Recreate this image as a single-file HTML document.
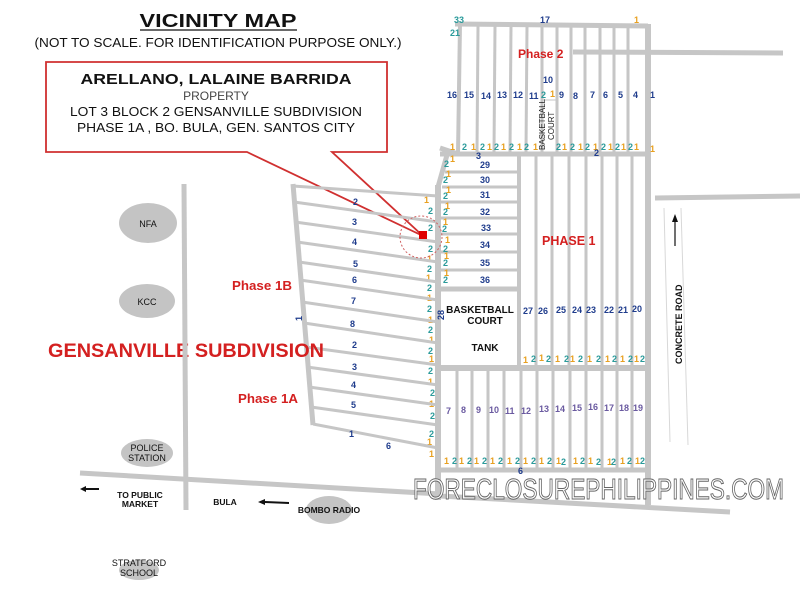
<!DOCTYPE html>
<html><head><meta charset="utf-8"><style>
html,body{margin:0;padding:0;background:#fff;}
svg{display:block;font-family:"Liberation Sans",Arial,sans-serif;}
.r{stroke:#c6c6c6;fill:none;}
.b{fill:#1f3c8c;font-size:9px;font-weight:bold;}
.p{fill:#6a5aa0;font-size:9px;font-weight:bold;}
.o{fill:#e8a020;font-size:9px;font-weight:bold;}
.t{fill:#2a9a9a;font-size:9px;font-weight:bold;}
.red{fill:#d42020;font-weight:bold;}
.k{fill:#111;font-size:9px;}
</style></head><body>
<svg width="800" height="600" viewBox="0 0 800 600" xmlns="http://www.w3.org/2000/svg">
<rect width="800" height="600" fill="#fff"/>
<!-- title -->
<text x="218" y="27" text-anchor="middle" font-size="18" font-weight="900" fill="#111" textLength="157" lengthAdjust="spacingAndGlyphs">VICINITY MAP</text>
<line x1="140" y1="30" x2="297" y2="30" stroke="#111" stroke-width="1.3"/>
<text x="218" y="47" text-anchor="middle" font-size="12.5" fill="#111" textLength="367" lengthAdjust="spacingAndGlyphs">(NOT TO SCALE. FOR IDENTIFICATION PURPOSE ONLY.)</text>
<!-- callout -->
<path d="M247,152 L46,152 L46,62 L387,62 L387,152 L332,152 L423,236 Z M247,152 L423,236" fill="#fff" stroke="#d03030" stroke-width="1.8"/>
<text x="216" y="84" text-anchor="middle" font-size="15" font-weight="bold" fill="#111" textLength="271" lengthAdjust="spacingAndGlyphs">ARELLANO, LALAINE BARRIDA</text>
<text x="216" y="100" text-anchor="middle" font-size="12" fill="#444">PROPERTY</text>
<text x="216" y="116" text-anchor="middle" font-size="12.5" fill="#111" textLength="292" lengthAdjust="spacingAndGlyphs">LOT 3 BLOCK 2  GENSANVILLE SUBDIVISION</text>
<text x="216" y="132" text-anchor="middle" font-size="12.5" fill="#111" textLength="278" lengthAdjust="spacingAndGlyphs">PHASE 1A , BO. BULA,  GEN. SANTOS CITY</text>

<!-- Phase 2 roads -->
<g class="r">
<line x1="455" y1="24" x2="648" y2="26" stroke-width="5"/>
<line x1="573" y1="52" x2="783" y2="53" stroke-width="5"/>
<line x1="460" y1="24" x2="458" y2="154" stroke-width="4"/>
<line x1="440" y1="148" x2="458" y2="154" stroke-width="5"/>
<line x1="440" y1="154" x2="650" y2="154" stroke-width="5"/>
<line x1="648" y1="24" x2="648" y2="505" stroke-width="6"/>
<g stroke-width="3">
<line x1="478" y1="26" x2="477" y2="152"/><line x1="495" y1="26" x2="494" y2="152"/>
<line x1="511" y1="26" x2="510" y2="152"/><line x1="527" y1="26" x2="526" y2="152"/>
<line x1="542" y1="26" x2="542" y2="152"/><line x1="557" y1="26" x2="557" y2="152"/>
<line x1="571" y1="26" x2="571" y2="152"/><line x1="585" y1="26" x2="585" y2="152"/>
<line x1="600" y1="26" x2="600" y2="152"/><line x1="614" y1="26" x2="614" y2="152"/>
<line x1="628" y1="26" x2="628" y2="152"/>
</g>
</g>
<rect x="543" y="100" width="13" height="52" fill="#fff" stroke="#c6c6c6"/>
<text transform="translate(545,150) rotate(-90)" font-size="8" fill="#222">BASKETBALL</text>
<text transform="translate(554,140) rotate(-90)" font-size="8" fill="#222">COURT</text>
<text x="518" y="58" class="red" font-size="12">Phase 2</text>
<text x="454" y="23" class="t">33</text><text x="540" y="23" class="b">17</text><text x="634" y="23" class="o">1</text><text x="450" y="36" class="t">21</text>
<text x="543" y="83" class="b">10</text>
<g class="b">
<text x="447" y="98">16</text><text x="464" y="98">15</text><text x="481" y="99">14</text><text x="497" y="98">13</text><text x="513" y="98">12</text><text x="529" y="99">11</text><text x="559" y="98">9</text><text x="573" y="99">8</text><text x="590" y="98">7</text><text x="603" y="98">6</text><text x="618" y="98">5</text><text x="633" y="98">4</text><text x="650" y="98">1</text>
</g>
<text x="541" y="98" class="t">2</text><text x="550" y="97" class="o">1</text>
<g font-size="9" font-weight="bold">
<text x="450" y="150" class="o">1</text><text x="462" y="150" class="t">2</text><text x="471" y="150" class="o">1</text><text x="480" y="150" class="t">2</text><text x="487" y="150" class="o">1</text><text x="494" y="150" class="t">2</text><text x="501" y="150" class="o">1</text><text x="509" y="150" class="t">2</text><text x="517" y="150" class="o">1</text><text x="524" y="150" class="t">2</text><text x="533" y="150" class="o">1</text>
<text x="556" y="150" class="t">2</text><text x="562" y="150" class="o">1</text><text x="570" y="150" class="t">2</text><text x="578" y="150" class="o">1</text><text x="585" y="150" class="t">2</text><text x="593" y="150" class="o">1</text><text x="601" y="150" class="t">2</text><text x="608" y="150" class="o">1</text><text x="615" y="150" class="t">2</text><text x="621" y="150" class="o">1</text><text x="628" y="150" class="t">2</text><text x="634" y="150" class="o">1</text><text x="650" y="152" class="o">1</text>
<text x="476" y="159" class="b">3</text><text x="594" y="156" class="b">2</text>
</g>

<!-- Phase 1 -->
<g class="r">
<line x1="447" y1="155" x2="438" y2="187" stroke-width="5"/>
<line x1="438" y1="185" x2="438" y2="500" stroke-width="6"/>
<line x1="519" y1="155" x2="519" y2="367" stroke-width="4"/>
<line x1="438" y1="289" x2="519" y2="289" stroke-width="5"/>
<line x1="438" y1="368" x2="648" y2="368" stroke-width="6"/>
<line x1="438" y1="470" x2="648" y2="470" stroke-width="5"/>
<g stroke-width="3">
<line x1="445" y1="172" x2="519" y2="172"/><line x1="442" y1="187" x2="519" y2="187"/>
<line x1="440" y1="202" x2="519" y2="202"/><line x1="440" y1="218" x2="519" y2="218"/>
<line x1="440" y1="234" x2="519" y2="234"/><line x1="440" y1="252" x2="519" y2="252"/>
<line x1="440" y1="270" x2="519" y2="270"/>
<line x1="536" y1="155" x2="536" y2="366"/><line x1="552" y1="155" x2="552" y2="366"/>
<line x1="569" y1="155" x2="569" y2="366"/><line x1="586" y1="155" x2="586" y2="366"/>
<line x1="602" y1="155" x2="602" y2="366"/><line x1="617" y1="155" x2="617" y2="366"/>
<line x1="632" y1="155" x2="632" y2="366"/>
<line x1="457" y1="370" x2="457" y2="468"/><line x1="472" y1="370" x2="472" y2="468"/>
<line x1="488" y1="370" x2="488" y2="468"/><line x1="504" y1="370" x2="504" y2="468"/>
<line x1="521" y1="370" x2="521" y2="468"/><line x1="537" y1="370" x2="537" y2="468"/>
<line x1="553" y1="370" x2="553" y2="468"/><line x1="570" y1="370" x2="570" y2="468"/>
<line x1="586" y1="370" x2="586" y2="468"/><line x1="602" y1="370" x2="602" y2="468"/>
<line x1="617" y1="370" x2="617" y2="468"/><line x1="632" y1="370" x2="632" y2="468"/>
</g>
</g>
<g class="b">
<text x="480" y="168">29</text><text x="480" y="183">30</text><text x="480" y="198">31</text><text x="480" y="215">32</text><text x="481" y="231">33</text><text x="480" y="248">34</text><text x="480" y="266">35</text><text x="480" y="283">36</text>
<text x="523" y="314">27</text><text x="538" y="314">26</text><text x="556" y="313">25</text><text x="572" y="313">24</text><text x="586" y="313">23</text><text x="604" y="313">22</text><text x="618" y="313">21</text><text x="632" y="312">20</text>
</g>
<text transform="translate(444,320) rotate(-90)" class="b" font-size="8">28</text>
<text x="480" y="313" font-size="10" font-weight="bold" text-anchor="middle" fill="#111">BASKETBALL</text>
<text x="485" y="324" font-size="10" font-weight="bold" text-anchor="middle" fill="#111">COURT</text>
<text x="485" y="351" font-size="10" font-weight="bold" text-anchor="middle" fill="#111">TANK</text>
<text x="542" y="245" class="red" font-size="12.5">PHASE 1</text>
<g class="p">
<text x="446" y="414">7</text><text x="461" y="413">8</text><text x="476" y="413">9</text><text x="489" y="413">10</text><text x="505" y="414">11</text><text x="521" y="414">12</text><text x="539" y="412">13</text><text x="555" y="412">14</text><text x="572" y="411">15</text><text x="588" y="410">16</text><text x="604" y="411">17</text><text x="619" y="411">18</text><text x="633" y="411">19</text>
</g>
<g font-size="9" font-weight="bold">
<text x="523" y="363" class="o">1</text><text x="531" y="362" class="t">2</text><text x="539" y="361" class="o">1</text><text x="546" y="362" class="t">2</text><text x="555" y="362" class="o">1</text><text x="564" y="362" class="t">2</text><text x="570" y="362" class="o">1</text><text x="578" y="362" class="t">2</text><text x="587" y="362" class="o">1</text><text x="596" y="362" class="t">2</text><text x="605" y="362" class="o">1</text><text x="612" y="362" class="t">2</text><text x="620" y="362" class="o">1</text><text x="628" y="362" class="t">2</text><text x="634" y="362" class="o">1</text><text x="640" y="362" class="t">2</text>
<text x="444" y="464" class="o">1</text><text x="452" y="464" class="t">2</text><text x="459" y="464" class="o">1</text><text x="467" y="464" class="t">2</text><text x="474" y="464" class="o">1</text><text x="482" y="464" class="t">2</text><text x="490" y="464" class="o">1</text><text x="498" y="464" class="t">2</text><text x="507" y="464" class="o">1</text><text x="515" y="464" class="t">2</text><text x="523" y="464" class="o">1</text><text x="531" y="464" class="t">2</text><text x="539" y="464" class="o">1</text><text x="547" y="464" class="t">2</text><text x="556" y="464" class="o">1</text><text x="561" y="465" class="t">2</text><text x="573" y="464" class="o">1</text><text x="580" y="464" class="t">2</text><text x="588" y="464" class="o">1</text><text x="596" y="465" class="t">2</text><text x="607" y="465" class="o">1</text><text x="611" y="465" class="t">2</text><text x="620" y="464" class="o">1</text><text x="627" y="464" class="t">2</text><text x="635" y="464" class="o">1</text><text x="640" y="464" class="t">2</text>
<text x="518" y="474" class="b">6</text>
</g>
<!-- left column small numbers -->
<g font-size="9" font-weight="bold">
<text x="424" y="203" class="o">1</text><text x="428" y="214" class="t">2</text><text x="428" y="231" class="t">2</text><text x="428" y="252" class="t">2</text><text x="427" y="262" class="o">1</text><text x="427" y="272" class="t">2</text><text x="426" y="281" class="o">1</text><text x="427" y="291" class="t">2</text><text x="427" y="301" class="o">1</text><text x="427" y="312" class="t">2</text><text x="428" y="323" class="o">1</text><text x="428" y="333" class="t">2</text><text x="429" y="343" class="o">1</text><text x="428" y="354" class="t">2</text><text x="429" y="362" class="o">1</text><text x="428" y="374" class="t">2</text><text x="428" y="385" class="o">1</text><text x="430" y="396" class="t">2</text><text x="429" y="407" class="o">1</text><text x="430" y="419" class="t">2</text><text x="429" y="437" class="t">2</text><text x="427" y="445" class="o">1</text><text x="429" y="457" class="o">1</text>
<text x="444" y="167" class="t">2</text><text x="450" y="162" class="o">1</text><text x="443" y="183" class="t">2</text><text x="446" y="177" class="o">1</text><text x="443" y="199" class="t">2</text><text x="446" y="193" class="o">1</text><text x="443" y="215" class="t">2</text><text x="445" y="209" class="o">1</text><text x="442" y="232" class="t">2</text><text x="443" y="225" class="o">1</text><text x="443" y="252" class="t">2</text><text x="445" y="243" class="o">1</text><text x="443" y="266" class="t">2</text><text x="444" y="259" class="o">1</text><text x="443" y="283" class="t">2</text><text x="444" y="276" class="o">1</text>
</g>

<!-- Phase 1B/1A block -->
<g class="r">
<line x1="293" y1="184" x2="313" y2="425" stroke-width="5"/>
<g stroke-width="3">
<line x1="293" y1="186" x2="438" y2="196"/><line x1="294" y1="202" x2="438" y2="222"/>
<line x1="295" y1="222" x2="438" y2="242"/><line x1="297" y1="242" x2="438" y2="262"/>
<line x1="299" y1="262" x2="438" y2="282"/><line x1="300" y1="280" x2="438" y2="300"/>
<line x1="302" y1="302" x2="438" y2="322"/><line x1="304" y1="323" x2="438" y2="343"/>
<line x1="306" y1="347" x2="438" y2="365"/><line x1="307" y1="367" x2="438" y2="385"/>
<line x1="309" y1="387" x2="438" y2="405"/><line x1="311" y1="407" x2="438" y2="425"/>
<line x1="313" y1="424" x2="438" y2="448"/>
</g>
</g>
<g class="b">
<text x="353" y="205">2</text><text x="352" y="225">3</text><text x="352" y="245">4</text><text x="353" y="267">5</text><text x="352" y="283">6</text><text x="351" y="304">7</text><text x="350" y="327">8</text><text x="352" y="348">2</text><text x="352" y="370">3</text><text x="351" y="388">4</text><text x="351" y="408">5</text><text x="349" y="437">1</text><text x="386" y="449">6</text>
</g>
<text transform="translate(302,321) rotate(-90)" class="b" font-size="8">1</text>
<rect x="419" y="231" width="8" height="8" fill="#e00000"/>
<circle cx="421" cy="237" r="21" fill="none" stroke="#d06060" stroke-width="1" stroke-dasharray="2,2"/>
<text x="232" y="290" class="red" font-size="13" textLength="60" lengthAdjust="spacingAndGlyphs">Phase 1B</text>
<text x="238" y="403" class="red" font-size="13" textLength="60" lengthAdjust="spacingAndGlyphs">Phase 1A</text>
<text x="48" y="357" class="red" font-size="19" textLength="276" lengthAdjust="spacingAndGlyphs">GENSANVILLE SUBDIVISION</text>

<!-- left area -->
<line x1="184" y1="184" x2="186" y2="510" class="r" stroke-width="5"/>
<ellipse cx="148" cy="223" rx="29" ry="20" fill="#c4c4c4"/>
<text x="148" y="227" text-anchor="middle" class="k">NFA</text>
<ellipse cx="147" cy="301" rx="28" ry="17" fill="#c4c4c4"/>
<text x="147" y="305" text-anchor="middle" class="k">KCC</text>
<ellipse cx="147" cy="453" rx="26" ry="14" fill="#c4c4c4"/>
<text x="147" y="451" text-anchor="middle" class="k">POLICE</text>
<text x="147" y="461" text-anchor="middle" class="k">STATION</text>
<ellipse cx="139" cy="570" rx="20" ry="10" fill="#c4c4c4"/>
<text x="139" y="566" text-anchor="middle" class="k">STRATFORD</text>
<text x="139" y="576" text-anchor="middle" class="k">SCHOOL</text>
<ellipse cx="329" cy="510" rx="23" ry="14" fill="#c4c4c4"/>
<line x1="80" y1="473" x2="440" y2="494" class="r" stroke-width="5"/>
<line x1="440" y1="496" x2="730" y2="512" class="r" stroke-width="5"/>
<text x="140" y="498" text-anchor="middle" font-size="8.5" font-weight="bold" fill="#111">TO PUBLIC</text>
<text x="140" y="507" text-anchor="middle" font-size="8.5" font-weight="bold" fill="#111">MARKET</text>
<text x="225" y="505" text-anchor="middle" font-size="8.5" font-weight="bold" fill="#111">BULA</text>
<text x="329" y="513" text-anchor="middle" font-size="8.5" font-weight="bold" fill="#111">BOMBO RADIO</text>
<path d="M80,489 L86,486 L86,488 L99,488 L99,490 L86,490 L86,492 Z" fill="#111"/>
<path d="M258,502 L265,499 L265,501 L289,502 L289,504 L265,503 L265,505 Z" fill="#111"/>

<!-- concrete road -->
<line x1="655" y1="198" x2="800" y2="196" class="r" stroke-width="5"/>
<line x1="664" y1="208" x2="670" y2="442" stroke="#d8d8d8" stroke-width="1"/>
<line x1="681" y1="208" x2="688" y2="445" stroke="#d8d8d8" stroke-width="1"/>
<line x1="675" y1="220" x2="675" y2="246" stroke="#111" stroke-width="1.2"/>
<path d="M675,214 L672,222 L678,222 Z" fill="#111"/>
<text transform="translate(682,364) rotate(-90)" font-size="9" font-weight="bold" fill="#111">CONCRETE ROAD</text>

<!-- watermark -->
<text x="413" y="499" font-family="'Liberation Sans Narrow','Liberation Sans',sans-serif" font-size="29" fill="#fff" stroke="#666" stroke-width="1" textLength="371" lengthAdjust="spacingAndGlyphs">FORECLOSUREPHILIPPINES.COM</text>
</svg>
</body></html>
